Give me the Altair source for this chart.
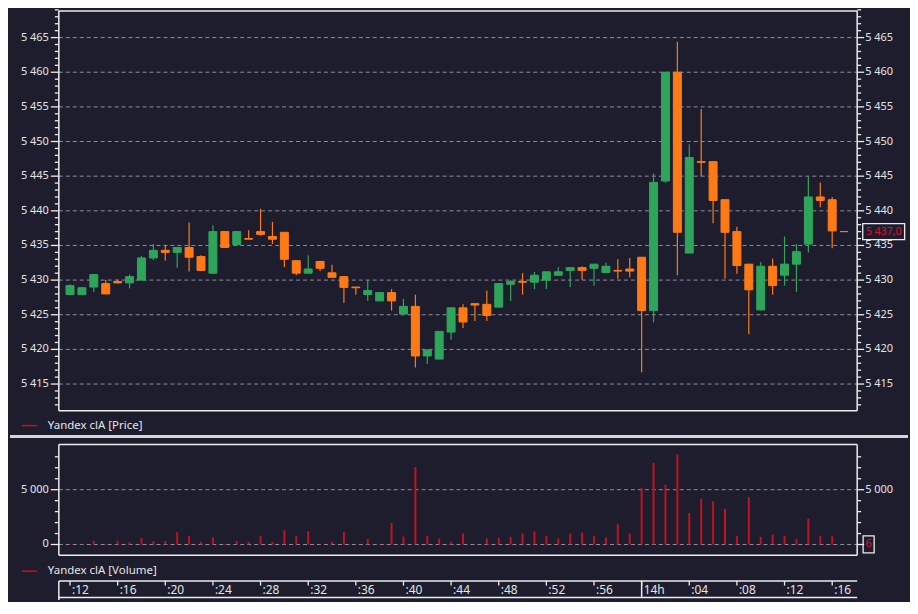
import altair as alt
import pandas as pd

# ---------------- data ----------------
times = ["13:12", "13:13", "13:14", "13:15", "13:16", "13:17", "13:18", "13:19", "13:20", "13:21",
         "13:22", "13:23", "13:24", "13:25", "13:26", "13:27", "13:28", "13:29", "13:30", "13:31",
         "13:32", "13:33", "13:34", "13:35", "13:36", "13:37", "13:38", "13:39", "13:40", "13:41",
         "13:42", "13:43", "13:44", "13:45", "13:46", "13:47", "13:48", "13:49", "13:50", "13:51",
         "13:52", "13:53", "13:54", "13:55", "13:56", "13:57", "13:58", "13:59", "14:00", "14:01",
         "14:02", "14:03", "14:04", "14:05", "14:06", "14:07", "14:08", "14:09", "14:10", "14:11",
         "14:12", "14:13", "14:14", "14:15", "14:16", "14:17"]

opens = [5427.9, 5427.9, 5429.0, 5429.5, 5429.8, 5429.6, 5430.0, 5433.2, 5434.3, 5434.0,
         5434.7, 5433.4, 5431.0, 5437.0, 5435.1, 5436.0, 5437.0, 5436.3, 5436.9, 5432.8,
         5431.0, 5432.7, 5431.05, 5430.5, 5429.0, 5427.9, 5427.0, 5428.2, 5425.1, 5426.2,
         5419.05, 5418.6, 5422.5, 5426.0, 5426.6, 5426.5, 5426.1, 5429.4, 5429.8, 5429.7,
         5430.0, 5430.7, 5431.4, 5431.8, 5431.7, 5431.1, 5431.4, 5431.6, 5433.3, 5425.6,
         5444.3, 5460.0, 5433.9, 5447.1, 5447.1, 5441.6, 5437.0, 5432.3, 5425.7, 5432.0,
         5430.7, 5432.3, 5435.2, 5442.0, 5441.6, 5437.0]

highs = [5429.4, 5429.0, 5430.9, 5430.0, 5430.1, 5430.8, 5433.5, 5435.2, 5435.1, 5434.7,
         5438.3, 5433.6, 5437.9, 5437.0, 5437.0, 5437.2, 5440.3, 5438.4, 5436.9, 5432.8,
         5433.6, 5432.7, 5432.2, 5430.5, 5429.0, 5430.0, 5428.2, 5428.7, 5427.3, 5427.9,
         5420.05, 5422.6, 5426.0, 5426.5, 5426.6, 5428.5, 5429.5, 5430.0, 5431.0, 5431.2,
         5431.2, 5431.9, 5431.9, 5432.0, 5432.3, 5432.5, 5433.0, 5433.2, 5433.3, 5445.4,
         5460.0, 5464.4, 5449.6, 5454.7, 5447.1, 5441.6, 5437.7, 5432.3, 5432.6, 5433.1,
         5436.3, 5435.2, 5444.9, 5444.1, 5442.0, 5437.0]

lows = [5427.8, 5427.9, 5428.3, 5428.0, 5429.5, 5428.8, 5430.0, 5432.9, 5432.8, 5431.8,
        5431.25, 5431.4, 5430.9, 5434.7, 5435.1, 5435.9, 5436.4, 5435.2, 5431.9, 5430.7,
        5431.0, 5431.3, 5430.4, 5426.7, 5427.9, 5427.0, 5427.0, 5425.6, 5425.05, 5417.4,
        5417.9, 5418.6, 5421.4, 5423.1, 5424.1, 5424.1, 5426.1, 5427.0, 5427.9, 5428.7,
        5428.7, 5430.7, 5429.0, 5430.0, 5429.2, 5431.1, 5430.2, 5430.4, 5416.7, 5423.9,
        5444.05, 5430.7, 5433.9, 5445.0, 5438.2, 5430.2, 5430.9, 5422.2, 5425.6, 5427.9,
        5429.2, 5428.3, 5434.0, 5440.5, 5434.6, 5437.0]

closes = [5429.2, 5428.9, 5430.8, 5428.0, 5429.6, 5430.5, 5433.2, 5434.3, 5434.0, 5434.7,
          5433.3, 5431.4, 5437.0, 5434.7, 5437.0, 5435.9, 5436.6, 5435.9, 5433.0, 5431.0,
          5431.6, 5431.7, 5430.4, 5428.95, 5428.9, 5428.5, 5428.2, 5427.0, 5426.2, 5419.05,
          5419.9, 5422.6, 5426.0, 5423.95, 5426.4, 5424.9, 5429.5, 5429.8, 5429.7, 5430.7,
          5431.2, 5431.2, 5431.8, 5431.4, 5432.3, 5432.0, 5431.3, 5431.3, 5425.6, 5444.1,
          5460.0, 5436.9, 5447.7, 5447.0, 5441.5, 5436.9, 5432.1, 5428.6, 5432.0, 5429.2,
          5432.3, 5434.1, 5442.0, 5441.5, 5437.1, 5437.0]

volumes = [50, 20, 333, 70, 333, 180, 600, 300, 333, 1120,
           790, 240, 670, 60, 330, 240, 760, 240, 1300, 760,
           1210, 30, 240, 1150, 30, 515, 40, 1970, 730, 7060,
           760, 545, 240, 1000, 20, 545, 640, 700, 1000, 1180,
           760, 545, 1000, 1090, 760, 640, 1850, 1000, 5150, 7450,
           5450, 8210, 2880, 4180, 3940, 3270, 760, 4330, 700, 900,
           760, 485, 2360, 760, 760, 6]

price_ticks = [5415, 5420, 5425, 5430, 5435, 5440, 5445, 5450, 5455, 5460, 5465]
price_minor = [v for v in range(5412, 5470) if v % 5 != 0]
volume_ticks = [0, 5000]
volume_minor = [1000, 2000, 3000, 4000, 6000, 7000, 8000]
time_ticks = ["13:12", "13:16", "13:20", "13:24", "13:28", "13:32", "13:36", "13:40", "13:44",
              "13:48", "13:52", "13:56", "14:00", "14:04", "14:08", "14:12", "14:16"]
time_labels = [":12", ":16", ":20", ":24", ":28", ":32", ":36", ":40", ":44",
               ":48", ":52", ":56", "14h", ":04", ":08", ":12", ":16"]

series_name = "Yandex clA"

# ---------------- style ----------------
BG = "#1e1d2e"
GREEN = "#2ea55a"
ORANGE = "#ff7a14"
RED = "#c3121e"
LRED = "#d8142a"
WHITE = "#ececec"
TXT = "#e4e4e4"
GRID = "#8d8d9b"
FONT = "Noto Sans"

W, H = 801, 591
PT, PB = 0, 401
VT, VB = 435, 546
TT, TB = 572, 588.5


def minutes(t):
    h, m = t.split(":")
    return (int(h) - 13) * 60 + int(m)


def fmt(v):
    return f"{int(v):,}".replace(",", " ")


def fmt1(v):
    i = int(v)
    d = int(round((v - i) * 10))
    return f"{i:,}".replace(",", " ") + "," + str(d)


df = pd.DataFrame({"t": times, "o": opens, "h": highs, "l": lows, "c": closes, "v": volumes})
df["m"] = df["t"].map(minutes)
df["dir"] = ["up" if c > o else "down" for o, c in zip(opens, closes)]
df["clab"] = [fmt1(c) for c in closes]
df["vlab"] = [fmt(v) for v in volumes]
last = df.iloc[[-1]]

pt = pd.DataFrame({"p": price_ticks, "lab": [fmt(v) for v in price_ticks]})
pm = pd.DataFrame({"p": price_minor})
vt = pd.DataFrame({"p": volume_ticks, "lab": [fmt(v) for v in volume_ticks]})
vm = pd.DataFrame({"p": volume_minor})
tt = pd.DataFrame({"m": [minutes(t) for t in time_ticks], "lab": time_labels})
dummy = pd.DataFrame({"k": [0]})

xscale = alt.Scale(domain=[11.48, 77.68], nice=False, zero=False)
pscale = alt.Scale(domain=[5411.16, 5468.84], range=[PB, PT], nice=False, zero=False)
vscale = alt.Scale(domain=[-973, 9118], range=[VB, VT], nice=False, zero=False)
cscale = alt.Scale(domain=["up", "down"], range=[GREEN, ORANGE])

X = alt.X("m:Q", scale=xscale, axis=None)


def yP(f="p"):
    return alt.Y(f"{f}:Q", scale=pscale, axis=None)


def yV(f="p"):
    return alt.Y(f"{f}:Q", scale=vscale, axis=None)


def axis_parts(major, minor, yf, right_labels=True):
    parts = [
        alt.Chart(major).mark_rule(color=GRID, strokeDash=[4, 3], strokeWidth=1).encode(
            y=yf(), x=alt.value(0), x2=alt.value(W)),
        alt.Chart(major).mark_rule(color=WHITE, strokeWidth=1.3).encode(
            y=yf(), x=alt.value(-8), x2=alt.value(0)),
        alt.Chart(major).mark_rule(color=WHITE, strokeWidth=1.3).encode(
            y=yf(), x=alt.value(W), x2=alt.value(W + 7)),
        alt.Chart(minor).mark_rule(color=WHITE, strokeWidth=1.3).encode(
            y=yf(), x=alt.value(-4), x2=alt.value(0)),
        alt.Chart(minor).mark_rule(color=WHITE, strokeWidth=1.3).encode(
            y=yf(), x=alt.value(W), x2=alt.value(W + 4)),
        alt.Chart(major).mark_text(align="right", baseline="middle", font=FONT, fontSize=11,
                                   color=TXT).encode(y=yf(), x=alt.value(-10), text="lab:N"),
    ]
    if right_labels:
        parts.append(
            alt.Chart(major).mark_text(align="left", baseline="middle", font=FONT, fontSize=11,
                                       color=TXT).encode(y=yf(), x=alt.value(W + 8), text="lab:N"))
    return parts


# ---------------- price panel ----------------
wicks = alt.Chart(df).mark_rule(strokeWidth=1.2).encode(
    x=X, y=yP("l"), y2="h:Q",
    color=alt.Color("dir:N", scale=cscale, legend=None))
bodies = alt.Chart(df).mark_bar(size=8, strokeWidth=1).encode(
    x=X, y=yP("o"), y2="c:Q",
    color=alt.Color("dir:N", scale=cscale, legend=None),
    stroke=alt.Stroke("dir:N", scale=cscale, legend=None))
pbox = alt.Chart(last).mark_point(shape="M-1,-0.38H1V0.38H-1Z", size=1764, filled=False,
                                  color=WHITE, strokeWidth=1.3, opacity=1).encode(
    y=yP("c"), x=alt.value(827.6))
ptxt = alt.Chart(last).mark_text(font=FONT, fontSize=10.5, color=LRED, baseline="middle",
                                 align="center").encode(
    y=yP("c"), x=alt.value(827.6), text="clab:N")

price = alt.layer(*axis_parts(pt, pm, yP), wicks, bodies, pbox, ptxt)

# ---------------- volume panel ----------------
vt_right = vt[vt["p"] > 0]
vparts = axis_parts(vt, vm, yV, right_labels=False)
vparts.append(alt.Chart(vt_right).mark_text(align="left", baseline="middle", font=FONT, fontSize=11,
                                            color=TXT).encode(y=yV(), x=alt.value(W + 8), text="lab:N"))
vbars = alt.Chart(df).mark_rule(color=RED, strokeWidth=2).encode(
    x=X, y=yV("v"), y2=alt.datum(0))
vbox = alt.Chart(last).mark_point(shape="M-0.65,-1H0.65V1H-0.65Z", size=289, filled=False,
                                  color=WHITE, strokeWidth=1.3, opacity=1).encode(
    y=yV("v"), x=alt.value(812.5))
vtxt = alt.Chart(last).mark_text(font=FONT, fontSize=11, color=LRED, baseline="middle").encode(
    y=yV("v"), x=alt.value(812.5), text="vlab:N")
volume = alt.layer(*vparts, vbars, vbox, vtxt)


# ---------------- frames, legends, time axis ----------------
def hline(y, x1, x2, color=WHITE, sw=1.5):
    return alt.Chart(dummy).mark_rule(color=color, strokeWidth=sw).encode(
        x=alt.value(x1), x2=alt.value(x2), y=alt.value(y))


def vline(x, y1, y2, color=WHITE, sw=1.5):
    return alt.Chart(dummy).mark_rule(color=color, strokeWidth=sw).encode(
        x=alt.value(x), y=alt.value(y1), y2=alt.value(y2))


def legend(y, label):
    return [
        hline(y, -37, -22, color=RED, sw=1.5),
        alt.Chart(dummy).mark_text(align="left", baseline="middle", font=FONT, fontSize=11.5,
                                   color=TXT, text=label).encode(x=alt.value(-11), y=alt.value(y)),
    ]


frames = [
    hline(PT, 0, W), hline(PB, 0, W), vline(0, PT, PB), vline(W, PT, PB),
    hline(VT, 0, W), hline(VB, 0, W), vline(0, VT, VB), vline(W, VT, VB),
    hline(427, -49, 852, color="#d6d6d6", sw=3),
    hline(TT, 0, W), hline(TB, 0, W), vline(0, TT, 591),
]
frames += legend(416, f"{series_name} [Price]")
frames += legend(562, f"{series_name} [Volume]")

tticks = alt.Chart(tt).mark_rule(color=WHITE, strokeWidth=1.3).encode(
    x=X, y=alt.value(TT), y2=alt.value(TT + 4.5))
hour_tick = alt.Chart(tt[tt["lab"] == "14h"]).mark_rule(color=WHITE, strokeWidth=1.5).encode(
    x=X, y=alt.value(TT), y2=alt.value(TB))
tlabels = alt.Chart(tt).mark_text(align="left", baseline="middle", font=FONT, fontSize=12,
                                  color=TXT, dx=2).encode(x=X, y=alt.value(580.5), text="lab:N")

fixed = alt.layer(*frames, tticks, hour_tick, tlabels)

chart = alt.layer(price, volume, fixed).resolve_scale(y="independent").properties(
    width=W, height=H, background=BG, padding=0
).configure_view(stroke="transparent")

chart.save("out.html", embed_options={"renderer": "svg", "actions": False})
